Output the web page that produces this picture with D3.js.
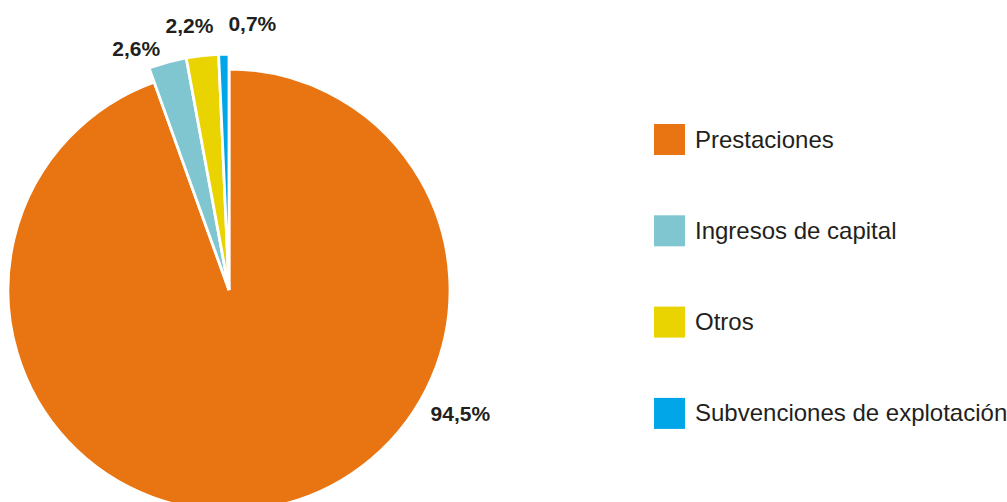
<!DOCTYPE html>
<html>
<head>
<meta charset="utf-8">
<script src="https://cdn.jsdelivr.net/npm/d3@7"></script>
<style>
  html, body { margin: 0; padding: 0; background: #fff; }
  svg { display: block; font-family: "Liberation Sans", Arial, sans-serif; }
</style>
</head>
<body>
<div id="chart"></div>
<script>
// Ingresos por fuente (%)
const categories = ["Prestaciones", "Ingresos de capital", "Otros", "Subvenciones de explotación"];
const values = [94.5, 2.6, 2.2, 0.7];
const valueLabels = ["94,5%", "2,6%", "2,2%", "0,7%"];
const colors = ["#e87412", "#7fc6d0", "#e9d300", "#00a6e7"];

// label placement: angle (deg, clockwise from top) and distance from centre
const labelAngle = [118, 339, 351.5, 5];
const labelRadius = [262, 259, 268, 268];

const width = 1007, height = 502;
const cx = 229, cy = 290;
const rMain = 221, rSmall = 236;

const svg = d3.select("#chart").append("svg")
    .attr("width", width)
    .attr("height", height);

const pie = d3.pie().sort(null).value(d => d)(values);

const arc = d3.arc()
    .innerRadius(0)
    .outerRadius((d, i) => i === 0 ? rMain : rSmall);

const g = svg.append("g").attr("transform", `translate(${cx},${cy})`);

g.selectAll("path")
    .data(pie)
    .enter()
    .append("path")
    .attr("d", (d, i) => arc(d, i))
    .attr("fill", (d, i) => colors[i])
    .attr("stroke", "#fff")
    .attr("stroke-width", 2.8)
    .attr("stroke-linejoin", "miter");

// percentage labels
g.selectAll("text.pct")
    .data(valueLabels)
    .enter()
    .append("text")
    .attr("class", "pct")
    .attr("x", (d, i) => labelRadius[i] * Math.sin(labelAngle[i] * Math.PI / 180))
    .attr("y", (d, i) => -labelRadius[i] * Math.cos(labelAngle[i] * Math.PI / 180))
    .attr("dy", "0.36em")
    .attr("text-anchor", "middle")
    .attr("font-size", 21)
    .attr("font-weight", "bold")
    .attr("fill", "#231f20")
    .text(d => d);

// legend
const legend = svg.append("g").attr("transform", "translate(654,124)");
const rowStep = 91.3;

const item = legend.selectAll("g")
    .data(categories)
    .enter()
    .append("g")
    .attr("transform", (d, i) => `translate(0,${i * rowStep})`);

item.append("rect")
    .attr("width", 31)
    .attr("height", 31)
    .attr("fill", (d, i) => colors[i]);

item.append("text")
    .attr("x", 41)
    .attr("y", 23.5)
    .attr("font-size", 24)
    .attr("fill", "#231f20")
    .text(d => d);
</script>
</body>
</html>
